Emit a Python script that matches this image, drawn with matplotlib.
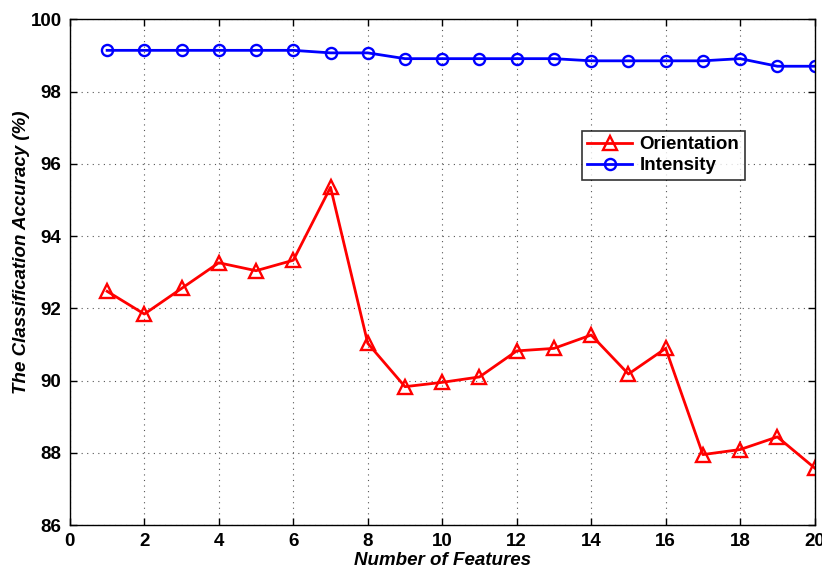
import matplotlib
matplotlib.use("Agg")
import matplotlib.pyplot as plt
import numpy as np

n_features = list(range(1, 21))
orientation = [92.47, 91.84, 92.55, 93.26, 93.04, 93.33, 95.35, 91.03, 89.83, 89.95,
               90.10, 90.82, 90.89, 91.26, 90.18, 90.89, 87.95, 88.09, 88.44, 87.58]
intensity = [99.14, 99.14, 99.14, 99.14, 99.14, 99.14, 99.07, 99.07, 98.91, 98.91,
             98.91, 98.91, 98.91, 98.85, 98.85, 98.85, 98.85, 98.91, 98.70, 98.70]
x_ticks = list(range(0, 21, 2))
y_ticks = list(range(86, 101, 2))

plt.rcParams['font.family'] = ['Liberation Sans', 'DejaVu Sans']
plt.rcParams['font.weight'] = 'bold'

fig = plt.figure(figsize=(8.22, 5.67), dpi=100)
ax = fig.add_axes([0.085, 0.074, 0.906, 0.892])

ax.plot(n_features, orientation, color='red', lw=2, marker='^', markersize=10,
        markerfacecolor='none', markeredgewidth=1.7, label='Orientation')
ax.plot(n_features, intensity, color='blue', lw=2, marker='o', markersize=8,
        markerfacecolor='none', markeredgewidth=1.7, label='Intensity')

ax.set_xlim(0, 20)
ax.set_ylim(86, 100)
ax.set_xticks(x_ticks)
ax.set_yticks(y_ticks)
ax.tick_params(direction='in', top=True, right=True, labelsize=13.5, length=5, width=1, pad=6)
for lab in ax.get_xticklabels() + ax.get_yticklabels():
    lab.set_fontweight('bold')
ax.grid(True, linestyle=(0, (1, 4)), color='#555555', linewidth=0.8)
for s in ax.spines.values():
    s.set_linewidth(1.0)

ax.set_xlabel('Number of Features', fontsize=13.5, fontweight='bold', style='italic', labelpad=1)
ax.set_ylabel('The Classification Accuracy (%)', fontsize=13.5, fontweight='bold', style='italic')
ax.yaxis.set_label_coords(-0.053, 0.54)

leg = ax.legend(loc='upper left', bbox_to_anchor=(0.687, 0.78), fontsize=13.5, frameon=True,
                fancybox=False, edgecolor='black', handlelength=2.4, borderpad=0.3,
                labelspacing=0.2, handletextpad=0.4, borderaxespad=0)
leg.get_frame().set_linewidth(1.2)
for t in leg.get_texts():
    t.set_fontweight('bold')

fig.savefig('out.png', dpi=100)
